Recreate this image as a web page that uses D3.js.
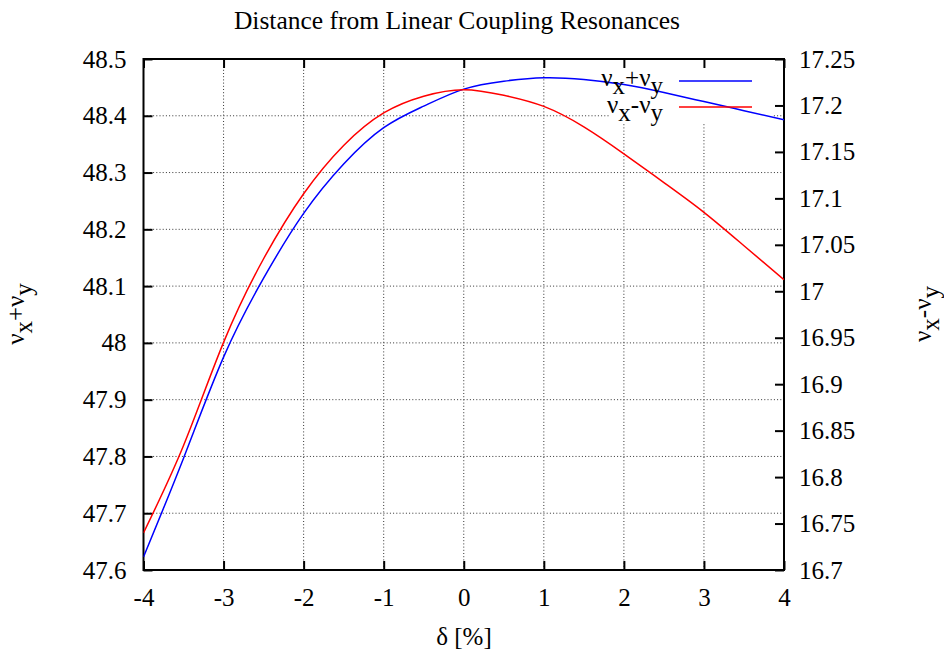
<!DOCTYPE html>
<html>
<head>
<meta charset="utf-8">
<script src="https://cdn.jsdelivr.net/npm/d3@7"></script>
<style>
  body { margin: 0; background: #fff; }
  svg { display: block; }
</style>
</head>
<body>
<svg id="chart" width="944" height="654"></svg>
<script>
// ---- data ----
const deltas = [-4, -3.5, -3, -2.5, -2, -1.5, -1, -0.5, 0, 0.5, 1, 1.5, 2, 2.5, 3, 3.5, 4];
const sumTune = [47.623, 47.797, 47.975, 48.114, 48.228, 48.315, 48.379, 48.417, 48.447, 48.461, 48.467, 48.464, 48.455, 48.441, 48.425, 48.409, 48.393];
const diffTune = [16.740, 16.834, 16.945, 17.035, 17.105, 17.157, 17.192, 17.210, 17.217, 17.211, 17.199, 17.177, 17.148, 17.117, 17.085, 17.049, 17.0125];
const xTicks = [-4, -3, -2, -1, 0, 1, 2, 3, 4];
const yLeftTicks = [47.6, 47.7, 47.8, 47.9, 48.0, 48.1, 48.2, 48.3, 48.4, 48.5];
const yRightTicks = [16.7, 16.75, 16.8, 16.85, 16.9, 16.95, 17.0, 17.05, 17.1, 17.15, 17.2, 17.25];
const xTickLabels = ["-4", "-3", "-2", "-1", "0", "1", "2", "3", "4"];
const yLeftLabels = ["47.6", "47.7", "47.8", "47.9", "48", "48.1", "48.2", "48.3", "48.4", "48.5"];
const yRightLabels = ["16.7", "16.75", "16.8", "16.85", "16.9", "16.95", "17", "17.05", "17.1", "17.15", "17.2", "17.25"];

// ---- layout ----
const FONT = '"Liberation Serif", "Times New Roman", serif';
const L = 143.5, R = 784, T = 59, B = 570;
const svg = d3.select("#chart");

const x = d3.scaleLinear().domain([-4, 4]).range([L, R]);
const yL = d3.scaleLinear().domain([47.6, 48.5]).range([B, T]);
const yR = d3.scaleLinear().domain([16.7, 17.25]).range([B, T]);

const tickFont = 25;

// grid
const grid = svg.append("g").attr("stroke", "#333").attr("stroke-width", 1)
  .attr("stroke-dasharray", "1,2.2");
xTicks.filter(v => v > -4 && v < 4).forEach(v => {
  grid.append("line").attr("x1", x(v)).attr("x2", x(v)).attr("y1", B).attr("y2", T);
});
yLeftTicks.filter(v => v > 47.6 && v < 48.5).forEach(v => {
  grid.append("line").attr("x1", L).attr("x2", R).attr("y1", yL(v)).attr("y2", yL(v));
});

// legend background (opaque key)
svg.append("rect").attr("x", 610).attr("y", T + 1).attr("width", 162).attr("height", 62)
  .attr("fill", "#fff");

// axes via d3
const axB = d3.axisBottom(x).tickValues(xTicks).tickSizeInner(-9).tickSizeOuter(0)
  .tickFormat((d, i) => xTickLabels[i]).tickPadding(18);
const axT = d3.axisTop(x).tickValues(xTicks).tickSizeInner(-9).tickSizeOuter(0).tickFormat("");
const axLft = d3.axisLeft(yL).tickValues(yLeftTicks).tickSizeInner(-9).tickSizeOuter(0)
  .tickFormat((d, i) => yLeftLabels[i]).tickPadding(17);
const axRgt = d3.axisRight(yR).tickValues(yRightTicks).tickSizeInner(-9).tickSizeOuter(0)
  .tickFormat((d, i) => yRightLabels[i]).tickPadding(15);

function styleAxis(g) {
  g.attr("font-family", null).attr("font-size", null);
  g.select(".domain").remove();
  g.selectAll(".tick line").attr("stroke", "#000").attr("stroke-width", 2);
  g.selectAll(".tick text").style("font-size", tickFont + "px")
    .style("font-family", FONT).attr("fill", "#000");
}
svg.append("g").attr("transform", `translate(0,${B})`).call(axB).call(styleAxis);
svg.append("g").attr("transform", `translate(0,${T})`).call(axT).call(styleAxis);
svg.append("g").attr("transform", `translate(${L},0)`).call(axLft).call(styleAxis);
svg.append("g").attr("transform", `translate(${R},0)`).call(axRgt).call(styleAxis);

// border
svg.append("rect").attr("x", L).attr("y", T).attr("width", R - L).attr("height", B - T)
  .attr("fill", "none").attr("stroke", "#000").attr("stroke-width", 2);

// curves
svg.append("clipPath").attr("id", "clip").append("rect")
  .attr("x", L).attr("y", T).attr("width", R - L).attr("height", B - T);
const lineSum = d3.line().x((d, i) => x(deltas[i])).y(d => yL(d)).curve(d3.curveNatural);
const lineDiff = d3.line().x((d, i) => x(deltas[i])).y(d => yR(d)).curve(d3.curveNatural);
const plot = svg.append("g").attr("clip-path", "url(#clip)");
plot.append("path").attr("d", lineSum(sumTune)).attr("fill", "none").attr("stroke", "#0000ff").attr("stroke-width", 1.5);
plot.append("path").attr("d", lineDiff(diffTune)).attr("fill", "none").attr("stroke", "#ff0000").attr("stroke-width", 1.5);

// legend
function nuLabel(g, sign) {
  const t = g.append("text").style("font-family", FONT).style("font-size", tickFont + "px").attr("fill", "#000");
  t.append("tspan").text("ν");
  t.append("tspan").attr("dy", 8).text("x");
  t.append("tspan").attr("dy", -8).text(sign + "ν");
  t.append("tspan").attr("dy", 8).text("y");
  return t;
}
nuLabel(svg.append("g"), "+").attr("x", 663).attr("y", 86).attr("text-anchor", "end");
nuLabel(svg.append("g"), "-").attr("x", 663).attr("y", 113).attr("text-anchor", "end");
svg.append("line").attr("x1", 679).attr("x2", 752).attr("y1", 81).attr("y2", 81).attr("stroke", "#0000ff").attr("stroke-width", 1.5);
svg.append("line").attr("x1", 679).attr("x2", 752).attr("y1", 107).attr("y2", 107).attr("stroke", "#ff0000").attr("stroke-width", 1.5);

// title
svg.append("text").attr("x", 457).attr("y", 29).attr("text-anchor", "middle")
  .style("font-family", FONT).style("font-size", "25.5px").text("Distance from Linear Coupling Resonances");

// x label
svg.append("text").attr("x", 464).attr("y", 645).attr("text-anchor", "middle")
  .style("font-family", FONT).style("font-size", tickFont + "px").text("δ [%]");

// y labels
const yl = svg.append("g").attr("transform", "translate(24,314) rotate(-90)");
nuLabel(yl, "+").attr("text-anchor", "middle");
const yr = svg.append("g").attr("transform", "translate(931,314) rotate(-90)");
nuLabel(yr, "-").attr("text-anchor", "middle");
</script>
</body>
</html>
